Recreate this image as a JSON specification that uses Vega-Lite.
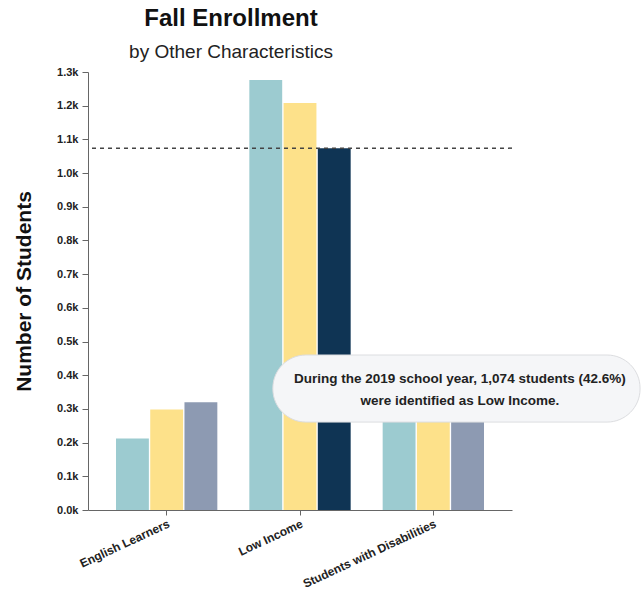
{
  "$schema": "https://vega.github.io/schema/vega-lite/v6.json",
  "width": 424,
  "height": 438,
  "autosize": {"type": "none"},
  "padding": {"left": 88, "top": 72, "right": 129, "bottom": 88},
  "background": "white",
  "title": {
    "text": "Fall Enrollment",
    "subtitle": "by Other Characteristics",
    "anchor": "middle",
    "dx": -69,
    "font": "Liberation Sans",
    "fontSize": 24,
    "fontWeight": "bold",
    "color": "#111111",
    "subtitleFont": "Liberation Sans",
    "subtitleFontSize": 19,
    "subtitleColor": "#222222",
    "subtitlePadding": 12,
    "offset": 4
  },
  "config": {
    "view": {"stroke": null},
    "axis": {
      "labelFont": "Liberation Sans",
      "titleFont": "Liberation Sans",
      "labelFontWeight": "bold",
      "labelColor": "#222222",
      "titleColor": "#111111",
      "domainColor": "#666666",
      "tickColor": "#666666",
      "grid": false
    },
    "axisY": {
      "titleFontSize": 21,
      "titleFontWeight": "bold",
      "titlePadding": 22,
      "labelFontSize": 11,
      "labelOverlap": false,
      "labelBound": false,
      "labelFlush": false,
      "tickSize": 6,
      "labelPadding": 4
    }
  },
  "layer": [
    {
      "data": {
        "values": [
          {"group": "English Learners", "year": "2017", "students": 212},
          {"group": "English Learners", "year": "2018", "students": 298},
          {"group": "English Learners", "year": "2019", "students": 320},
          {"group": "Low Income", "year": "2017", "students": 1276},
          {"group": "Low Income", "year": "2018", "students": 1208},
          {"group": "Low Income", "year": "2019", "students": 1074},
          {"group": "Students with Disabilities", "year": "2017", "students": 380},
          {"group": "Students with Disabilities", "year": "2018", "students": 390},
          {"group": "Students with Disabilities", "year": "2019", "students": 400}
        ]
      },
      "mark": {"type": "bar"},
      "encoding": {
        "x": {
          "field": "group",
          "type": "nominal",
          "sort": null,
          "scale": {"paddingInner": 0.24, "paddingOuter": 0.21},
          "axis": {"title": null, "labelAngle": -25, "labelFontSize": 12, "tickSize": 5, "labelPadding": 3}
        },
        "xOffset": {"field": "year", "type": "nominal", "scale": {"paddingInner": 0.04}},
        "y": {
          "field": "students",
          "type": "quantitative",
          "scale": {"domain": [0, 1300], "nice": false},
          "axis": {
            "title": "Number of Students",
            "values": [0, 100, 200, 300, 400, 500, 600, 700, 800, 900, 1000, 1100, 1200, 1300],
            "labelExpr": "format(datum.value / 1000, '.1f') + 'k'"
          }
        },
        "color": {
          "condition": {"test": "datum.group === 'Low Income' && datum.year === '2019'", "value": "#0f3454"},
          "field": "year",
          "type": "nominal",
          "scale": {"domain": ["2017", "2018", "2019"], "range": ["#9ccbd0", "#fde18a", "#8d9ab2"]},
          "legend": null
        }
      }
    },
    {
      "data": {"values": [{"reference": 1074}]},
      "mark": {"type": "rule", "strokeDash": [4, 4], "color": "#444444", "strokeWidth": 1.5},
      "encoding": {
        "y": {
          "field": "reference",
          "type": "quantitative",
          "axis": {
            "title": "Number of Students",
            "values": [0, 100, 200, 300, 400, 500, 600, 700, 800, 900, 1000, 1100, 1200, 1300],
            "labelExpr": "format(datum.value / 1000, '.1f') + 'k'"
          }
        }
      }
    },
    {
      "data": {"values": [{"x1": 0.436, "x2": 1.302, "y1": 261, "y2": 460}]},
      "mark": {"type": "rect", "cornerRadius": 33, "fill": "#f5f6f8", "stroke": "#dcdde0", "strokeWidth": 1},
      "encoding": {
        "x": {"field": "x1", "type": "quantitative", "scale": {"domain": [0, 1]}, "axis": null},
        "x2": {"field": "x2"},
        "y": {
          "field": "y1",
          "type": "quantitative",
          "axis": {
            "title": "Number of Students",
            "values": [0, 100, 200, 300, 400, 500, 600, 700, 800, 900, 1000, 1100, 1200, 1300],
            "labelExpr": "format(datum.value / 1000, '.1f') + 'k'"
          }
        },
        "y2": {"field": "y2"}
      }
    },
    {
      "data": {"values": [{"x": 0.877, "y": 389, "note": "During the 2019 school year, 1,074 students (42.6%)\nwere identified as Low Income."}]},
      "mark": {"type": "text", "font": "Liberation Sans", "fontSize": 13.5, "fontWeight": "bold", "color": "#222222", "lineBreak": "\n", "lineHeight": 22, "align": "center", "baseline": "middle"},
      "encoding": {
        "x": {"field": "x", "type": "quantitative", "scale": {"domain": [0, 1]}, "axis": null},
        "y": {
          "field": "y",
          "type": "quantitative",
          "axis": {
            "title": "Number of Students",
            "values": [0, 100, 200, 300, 400, 500, 600, 700, 800, 900, 1000, 1100, 1200, 1300],
            "labelExpr": "format(datum.value / 1000, '.1f') + 'k'"
          }
        },
        "text": {"field": "note"}
      }
    }
  ],
  "resolve": {"scale": {"x": "independent"}}
}
